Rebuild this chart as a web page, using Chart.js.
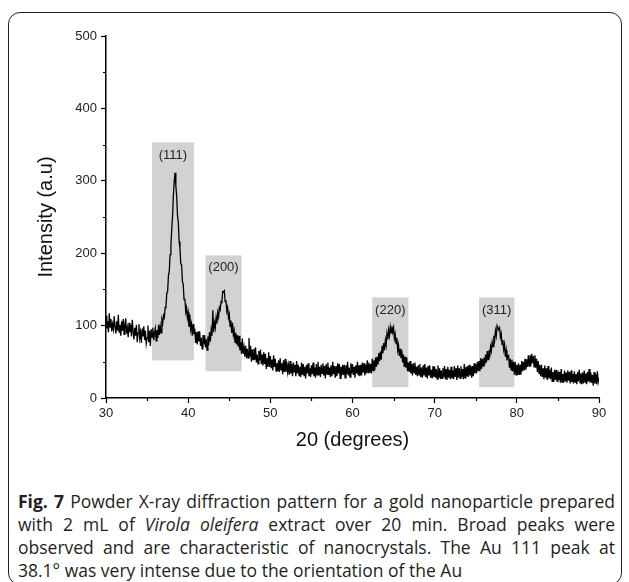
<!DOCTYPE html>
<html>
<head>
<meta charset="utf-8">
<script src="https://cdn.jsdelivr.net/npm/chart.js@4.4.1/dist/chart.umd.min.js"></script>
<style>
html,body{margin:0;padding:0;background:#fff;width:629px;height:582px;overflow:hidden;}
#frame{position:absolute;left:8px;top:12px;width:614px;height:573px;border:1.5px solid #231f20;border-radius:12px;box-sizing:border-box;}
#c{position:absolute;left:0;top:0;}
#cap{position:absolute;left:18px;top:490px;width:597px;font-family:"Open Sans","Noto Sans",sans-serif;font-size:17.5px;line-height:23px;color:#231f20;}
.ln{white-space:nowrap;}
</style>
</head>
<body>
<div id="frame"></div>
<canvas id="c" width="629" height="456"></canvas>
<div id="cap">
<div class="ln fit"><b>Fig. 7</b> Powder X-ray diffraction pattern for a gold nanoparticle prepared</div>
<div class="ln fit">with 2 mL of <i>Virola oleifera</i> extract over 20 min. Broad peaks were</div>
<div class="ln fit">observed and are characteristic of nanocrystals. The Au 111 peak at</div>
<div class="ln">38.1° was very intense due to the orientation of the Au</div>
</div>
<script>
// XRD scan: 30° to 90°, 0.1° step
const scanStart = 30;
const scanStep = 0.1;
const intensity = [
  114, 96,106, 91,117, 98,109, 92,102, 95,
  113, 98, 89,106, 93,115, 91,101, 86,106,
   93,109, 88,101,110, 89, 97, 84,104, 91,
  101, 85,108, 92, 81, 97, 86,101, 77, 90,
  102, 83, 91, 76, 96, 85, 99, 80, 93, 75,
   83,100, 77, 93, 72, 95, 84, 97, 80, 90,
   96, 79, 94, 83,101, 87, 99, 90,108,103,
  114,111,125,126,145,147,169,175,198,210,
  233,251,280,299,311,293,279,252,243,216,
  207,185,184,161,157,136,137,119,125,111,
  118, 98,115, 95,102, 86,102, 88, 96, 76,
   91, 74, 92, 78, 92, 72, 83, 68, 87, 74,
   87, 70, 81, 66, 85, 73, 91, 78, 94, 86,
  121, 91,104, 97,111,103,118,112,125,122,
  133,132,147,146,148,133,135,120,125,111,
  116, 99,107, 90,104, 87, 93, 77, 90, 74,
   87, 71, 86, 66, 77, 61, 82, 61, 70, 57,
   72, 55, 68, 55, 83, 57, 72, 50, 67, 53,
   68, 53, 70, 49, 60, 47, 65, 52, 67, 47,
   60, 45, 63, 47, 61, 40, 55, 43, 63, 43,
   58, 42, 53, 38, 59, 43, 54, 37, 48, 37,
   52, 36, 55, 39, 48, 33, 52, 36, 54, 36,
   50, 36, 45, 32, 51, 34, 47, 30, 49, 36,
   46, 30, 51, 34, 46, 31, 43, 29, 49, 32,
   47, 31, 43, 27, 46, 34, 48, 30, 41, 29,
   45, 33, 49, 30, 42, 28, 47, 32, 50, 31,
   43, 29, 46, 34, 48, 31, 44, 27, 47, 33,
   49, 32, 42, 29, 45, 30, 50, 33, 44, 28,
   44, 30, 48, 34, 47, 27, 43, 31, 46, 32,
   46, 28, 45, 33, 50, 31, 42, 29, 48, 34,
   47, 32, 43, 28, 45, 34, 50, 31, 45, 30,
   46, 31, 49, 35, 48, 31, 46, 34, 52, 35,
   49, 35, 47, 34, 54, 38, 52, 38, 56, 43,
   57, 46, 62, 51, 64, 53, 72, 62, 76, 66,
   80, 73, 89, 81, 94, 86, 98, 90, 99, 91,
   97, 82, 88, 75, 83, 66, 73, 58, 68, 55,
   66, 49, 60, 43, 57, 42, 56, 37, 49, 36,
   51, 34, 47, 31, 48, 35, 49, 32, 43, 30,
   45, 32, 47, 29, 42, 28, 45, 31, 47, 29,
   42, 27, 44, 31, 45, 28, 39, 27, 44, 29,
   43, 28, 40, 26, 45, 28, 41, 26, 38, 27,
   41, 29, 44, 26, 40, 25, 43, 28, 39, 26,
   43, 27, 38, 26, 44, 29, 41, 25, 45, 28,
   41, 27, 44, 29, 40, 26, 47, 28, 43, 30,
   44, 29, 46, 31, 44, 28, 44, 30, 48, 34,
   47, 34, 50, 37, 51, 37, 55, 40, 54, 44,
   56, 46, 60, 49, 65, 53, 66, 56, 71, 65,
   77, 71, 86, 80, 93, 86,100,100, 94, 97,
   84, 89, 74, 80, 67, 74, 57, 66, 52, 59,
   59, 42, 54, 39, 53, 37, 50, 32, 50, 32,
   46, 32, 48, 32, 46, 32, 51, 37, 50, 38,
   54, 39, 53, 43, 59, 44, 59, 44, 61, 48,
   58, 43, 59, 42, 54, 36, 51, 34, 46, 30,
   46, 29, 41, 26, 45, 28, 41, 25, 44, 27,
   39, 26, 42, 23, 36, 22, 39, 25, 39, 23,
   38, 25, 36, 21, 40, 22, 33, 21, 38, 23,
   35, 21, 38, 24, 36, 20, 38, 22, 33, 20,
   37, 22, 33, 19, 36, 23, 39, 21, 34, 19,
   35, 20, 38, 22, 34, 19, 36, 23, 40, 21,
   35, 21, 32, 17, 36, 20, 33, 19, 37, 22,
   28
];
// highlighted peak regions
const peakLabels = ['(111)', '(200)', '(220)', '(311)'];
const boxFrom  = [35.6, 42.1, 62.4, 75.4];
const boxTo    = [40.7, 46.5, 66.8, 79.7];
const boxLow   = [52, 37, 15, 15];
const boxHigh  = [353, 197, 139, 139];
const labelAt  = [335, 180, 121, 121];
// axis ticks
const xMinorTicks = [35, 45, 55, 65, 75, 85];
const yMinorTicks = [50, 150, 250, 350, 450];

const points = intensity.map((v, i) => ({ x: scanStart + i * scanStep, y: v }));

const peakBoxes = {
  id: 'peakBoxes',
  beforeDatasetsDraw(chart) {
    const { ctx, scales: { x, y } } = chart;
    ctx.save();
    ctx.fillStyle = '#d2d2d2';
    for (let i = 0; i < peakLabels.length; i++) {
      const l = x.getPixelForValue(boxFrom[i]);
      const r = x.getPixelForValue(boxTo[i]);
      const t = y.getPixelForValue(boxHigh[i]);
      const b = y.getPixelForValue(boxLow[i]);
      ctx.fillRect(l, t, r - l, b - t);
    }
    ctx.restore();
  },
  afterDatasetsDraw(chart) {
    const { ctx, scales: { x, y } } = chart;
    ctx.save();
    ctx.fillStyle = '#222';
    ctx.font = '13px "Liberation Sans", Arial, sans-serif';
    ctx.textAlign = 'center';
    ctx.textBaseline = 'middle';
    for (let i = 0; i < peakLabels.length; i++) {
      const cx = x.getPixelForValue((boxFrom[i] + boxTo[i]) / 2);
      ctx.fillText(peakLabels[i], cx, y.getPixelForValue(labelAt[i]));
    }
    ctx.restore();
  },
  afterDraw(chart) {
    const { ctx, scales: { x, y } } = chart;
    ctx.save();
    ctx.strokeStyle = '#000';
    ctx.lineWidth = 1.2;
    ctx.beginPath();
    xMinorTicks.forEach(v => {
      const px = Math.round(x.getPixelForValue(v)) + 0.5;
      ctx.moveTo(px, y.bottom);
      ctx.lineTo(px, y.bottom + 3);
    });
    yMinorTicks.forEach(v => {
      const py = Math.round(y.getPixelForValue(v)) + 0.5;
      ctx.moveTo(x.left, py);
      ctx.lineTo(x.left - 3, py);
    });
    ctx.stroke();
    ctx.restore();
  }
};

new Chart(document.getElementById('c'), {
  type: 'line',
  data: {
    datasets: [{
      data: points,
      borderColor: '#000',
      borderWidth: 1.3,
      pointRadius: 0,
      tension: 0,
      fill: false
    }]
  },
  options: {
    responsive: false,
    animation: false,
    devicePixelRatio: 1,
    layout: { padding: { left: 30, right: 30, top: 36, bottom: 0 } },
    plugins: { legend: { display: false }, tooltip: { enabled: false } },
    scales: {
      x: {
        type: 'linear',
        min: 30, max: 90,
        afterFit(s) { s.height = 58; },
        border: { display: true, color: '#000', width: 1.5 },
        grid: { drawOnChartArea: false, drawTicks: true, tickLength: 5, tickColor: '#000', tickWidth: 1.2 },
        ticks: { stepSize: 10, color: '#222', padding: 3, font: { family: '"Liberation Sans", Arial, sans-serif', size: 13 } },
        title: { display: true, text: '20 (degrees)', color: '#111', font: { family: '"Liberation Sans", Arial, sans-serif', size: 20 } }
      },
      y: {
        min: 0, max: 500,
        afterFit(s) { s.width = 76; },
        border: { display: true, color: '#000', width: 1.5 },
        grid: { drawOnChartArea: false, drawTicks: true, tickLength: 5, tickColor: '#000', tickWidth: 1.2 },
        ticks: { stepSize: 100, color: '#222', padding: 4, font: { family: '"Liberation Sans", Arial, sans-serif', size: 13 } },
        title: { display: true, text: 'Intensity (a.u)', color: '#111', font: { family: '"Liberation Sans", Arial, sans-serif', size: 20 } }
      }
    }
  },
  plugins: [peakBoxes]
});

// justify the full caption lines to the caption width
document.querySelectorAll('#cap .fit').forEach(el => {
  el.style.display = 'inline-block';
  const w = el.getBoundingClientRect().width;
  const spaces = (el.textContent.match(/ /g) || []).length;
  el.style.display = 'block';
  el.style.wordSpacing = ((597 - w) / spaces) + 'px';
});
</script>
</body>
</html>
